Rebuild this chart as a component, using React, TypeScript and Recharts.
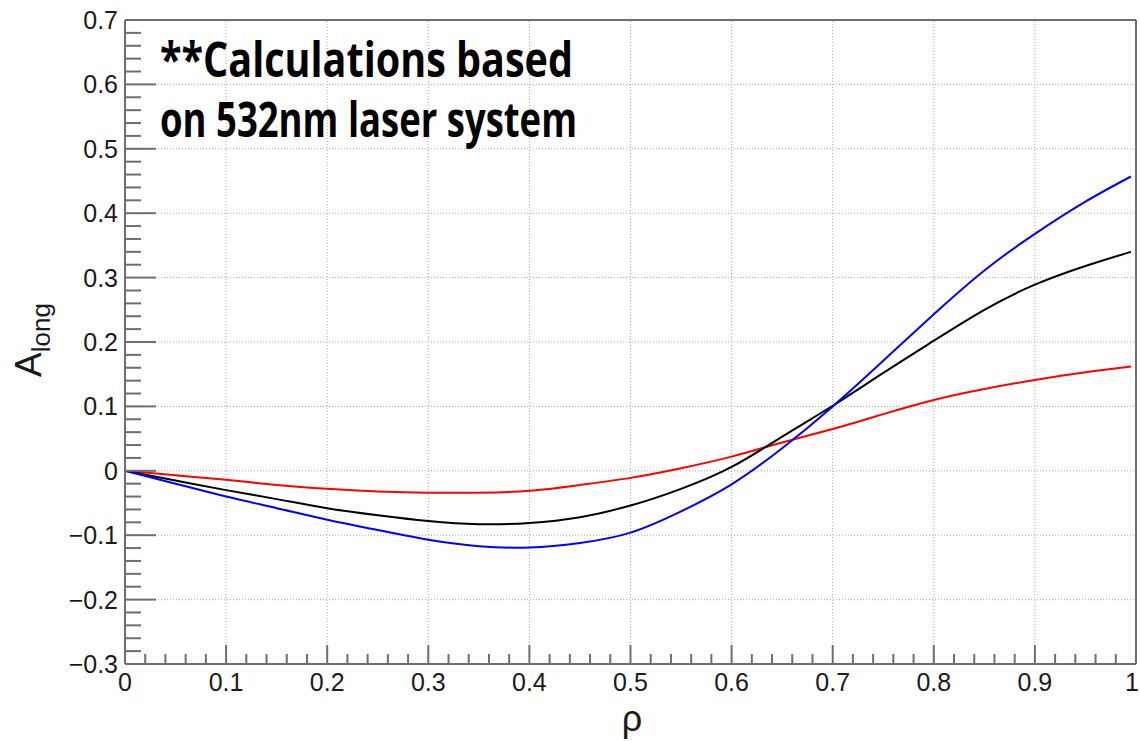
import { LineChart, Line, XAxis, YAxis, ReferenceLine, Label } from 'recharts'

// rho positions and the three asymmetry curves
const rho = [0, 0.05, 0.1, 0.15, 0.2, 0.25, 0.3, 0.35, 0.4, 0.45, 0.5, 0.55, 0.6, 0.65, 0.7, 0.75, 0.8, 0.85, 0.9, 0.95, 0.995]
const redVals = [0, -0.007, -0.014, -0.022, -0.028, -0.032, -0.034, -0.034, -0.031, -0.022, -0.011, 0.004, 0.022, 0.044, 0.065, 0.088, 0.11, 0.127, 0.141, 0.153, 0.162]
const blackVals = [0, -0.015, -0.03, -0.044, -0.058, -0.069, -0.078, -0.083, -0.081, -0.072, -0.054, -0.028, 0.006, 0.053, 0.101, 0.152, 0.202, 0.25, 0.289, 0.318, 0.34]
const blueVals = [0, -0.02, -0.04, -0.058, -0.076, -0.092, -0.107, -0.117, -0.119, -0.112, -0.096, -0.063, -0.021, 0.035, 0.1, 0.171, 0.243, 0.311, 0.368, 0.418, 0.457]

// major tick labels
const xMajor = [0, 0.1, 0.2, 0.3, 0.4, 0.5, 0.6, 0.7, 0.8, 0.9, 1]
const yMajor = [-0.3, -0.2, -0.1, 0, 0.1, 0.2, 0.3, 0.4, 0.5, 0.6, 0.7]

// minor ticks every 0.02 (built in integer steps to avoid float drift)
const xTicks = Array.from({ length: 51 }, (_, i) => i / 50)
const yTicks = Array.from({ length: 51 }, (_, i) => (i - 15) / 50)

const data = rho.map((r, i) => ({
  rho: r,
  red: redVals[i],
  black: blackVals[i],
  blue: blueVals[i],
}))

const AXIS = '#6e6e6e'
const GRID = '#a8a8a8'
const FONT = '"Liberation Sans", Arial, sans-serif'

const isMajor = (v: number) => Math.abs(Math.round(v * 10) - v * 10) < 1e-6

const fmt = (v: number) => {
  if (Math.abs(v) < 1e-9) return '0'
  if (Math.abs(v - 1) < 1e-9) return '1'
  const s = Math.abs(v).toFixed(1)
  return v < 0 ? `\u2212${s}` : s
}

const YTick = (props: any) => {
  const { x, y, payload } = props
  const v = payload.value
  const major = isMajor(v)
  return (
    <g>
      <line x1={x} x2={x + (major ? 31 : 16)} y1={y} y2={y} stroke={AXIS} strokeWidth={2} />
      {major && (
        <text x={x - 7} y={y + 9} textAnchor="end" fontFamily={FONT} fontSize={25} fill="#1a1a1a">
          {fmt(v)}
        </text>
      )}
    </g>
  )
}

const XTick = (props: any) => {
  const { x, y, payload } = props
  const v = payload.value
  const major = isMajor(v)
  // the last label sits at the window edge, keep it inside
  const last = Math.abs(v - 1) < 1e-9
  return (
    <g>
      <line x1={x} x2={x} y1={y} y2={y - (major ? 19 : 10)} stroke={AXIS} strokeWidth={2} />
      {major && (
        <text
          x={last ? x + 3 : x}
          y={y + 27}
          textAnchor={last ? 'end' : 'middle'}
          fontFamily={FONT}
          fontSize={25}
          fill="#1a1a1a"
        >
          {fmt(v)}
        </text>
      )}
    </g>
  )
}

export default function App() {
  return (
    <div style={{ position: 'absolute', left: 0, top: 0, width: 1140, height: 741, background: '#fff' }}>
      <LineChart width={1140} height={741} data={data} margin={{ top: 20, right: 4, left: 0, bottom: 0 }}>
        <XAxis
          dataKey="rho"
          type="number"
          domain={[0, 1]}
          ticks={xTicks}
          interval={0}
          tickSize={0}
          tickMargin={0}
          height={77}
          axisLine={{ stroke: AXIS, strokeWidth: 2 }}
          tickLine={false}
          tick={<XTick />}
        >
          <Label
            content={() => (
              <text x={632} y={731} textAnchor="middle" fontFamily={FONT} fontSize={36} fill="#1a1a1a">
                ρ
              </text>
            )}
          />
        </XAxis>
        <YAxis
          type="number"
          domain={[-0.3, 0.7]}
          ticks={yTicks}
          interval={0}
          allowDataOverflow
          tickSize={0}
          tickMargin={0}
          width={125}
          axisLine={{ stroke: AXIS, strokeWidth: 2 }}
          tickLine={false}
          tick={<YTick />}
        >
          <Label
            content={() => (
              <text
                transform="translate(41, 377) rotate(-90)"
                fontFamily={FONT}
                fontSize={37}
                fill="#1a1a1a"
              >
                A
                <tspan fontSize={26} dy={9}>long</tspan>
              </text>
            )}
          />
        </YAxis>

        {xMajor.slice(1, -1).map((v) => (
          <ReferenceLine key={`gx-${v}`} x={v} stroke={GRID} strokeDasharray="1 2" />
        ))}
        {yMajor.slice(1, -1).map((v) => (
          <ReferenceLine key={`gy-${v}`} y={v} stroke={GRID} strokeDasharray="1 2" />
        ))}
        <ReferenceLine y={0.7} stroke={AXIS} strokeWidth={2} />
        <ReferenceLine x={1} stroke={AXIS} strokeWidth={2} />

        <Line type="natural" dataKey="red" stroke="#ff0000" strokeWidth={2} dot={false} isAnimationActive={false} />
        <Line type="natural" dataKey="black" stroke="#000000" strokeWidth={2} dot={false} isAnimationActive={false} />
        <Line type="natural" dataKey="blue" stroke="#0000ff" strokeWidth={2} dot={false} isAnimationActive={false} />
      </LineChart>

      <svg
        width={1140}
        height={741}
        style={{ position: 'absolute', left: 0, top: 0, pointerEvents: 'none' }}
      >
        <text
          x={160}
          y={77}
          fontFamily='"Open Sans", sans-serif'
          fontWeight={700}
          fontSize={48}
          textLength={413}
          lengthAdjust="spacingAndGlyphs"
        >
          **Calculations based
        </text>
        <text
          x={160}
          y={137}
          fontFamily='"Open Sans", sans-serif'
          fontWeight={700}
          fontSize={48}
          textLength={417}
          lengthAdjust="spacingAndGlyphs"
        >
          on 532nm laser system
        </text>
      </svg>
    </div>
  )
}
